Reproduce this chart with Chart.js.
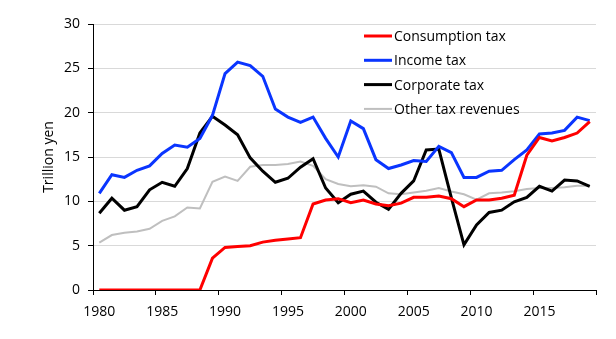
<!DOCTYPE html>
<html>
<head>
<meta charset="utf-8">
<script src="https://cdn.jsdelivr.net/npm/chart.js@4"></script>
<style>
  html, body { margin: 0; padding: 0; background: #fff; }
  #wrap { width: 616px; height: 339px; }
</style>
</head>
<body>
<div id="wrap"><canvas id="taxChart" width="616" height="339"></canvas></div>
<script>
const years = ['1980','1981','1982','1983','1984','1985','1986','1987','1988','1989',
               '1990','1991','1992','1993','1994','1995','1996','1997','1998','1999',
               '2000','2001','2002','2003','2004','2005','2006','2007','2008','2009',
               '2010','2011','2012','2013','2014','2015','2016','2017','2018','2019'];

// trillion yen
const consumptionTax = [0, 0, 0, 0, 0, 0, 0, 0, 0, 3.6,
                        4.8, 4.9, 5.0, 5.4, 5.6, 5.75, 5.9, 9.7, 10.15, 10.3,
                        9.85, 10.15, 9.7, 9.5, 9.8, 10.45, 10.45, 10.6, 10.3, 9.4,
                        10.15, 10.15, 10.35, 10.7, 15.2, 17.2, 16.8, 17.2, 17.7, 19.0];
const incomeTax = [10.9, 13.0, 12.7, 13.5, 14.0, 15.4, 16.35, 16.1, 17.1, 19.7,
                   24.4, 25.7, 25.3, 24.1, 20.4, 19.5, 18.9, 19.5, 17.1, 15.0,
                   19.06, 18.2, 14.7, 13.7, 14.1, 14.6, 14.5, 16.2, 15.5, 12.7,
                   12.7, 13.4, 13.5, 14.7, 15.8, 17.6, 17.7, 18.0, 19.5, 19.1];
const corporateTax = [8.65, 10.35, 9.0, 9.4, 11.3, 12.15, 11.7, 13.7, 17.7, 19.6,
                      18.6, 17.5, 14.9, 13.4, 12.15, 12.6, 13.85, 14.8, 11.5, 9.85,
                      10.8, 11.15, 9.9, 9.1, 10.9, 12.3, 15.8, 15.9, 10.4, 5.1,
                      7.35, 8.75, 9.0, 9.95, 10.45, 11.7, 11.15, 12.4, 12.3, 11.7];
const otherTax = [5.35, 6.2, 6.45, 6.6, 6.9, 7.8, 8.3, 9.3, 9.2, 12.2,
                  12.8, 12.3, 13.9, 14.1, 14.1, 14.2, 14.5, 14.0, 12.5, 11.95,
                  11.7, 11.8, 11.65, 10.9, 10.8, 11.0, 11.2, 11.5, 11.1, 10.8,
                  10.2, 10.9, 11.0, 11.15, 11.4, 11.5, 11.5, 11.6, 11.75, 11.75];

const yTicks = [0, 5, 10, 15, 20, 25, 30];

const FONT = '"Open Sans", sans-serif';

// legend drawn inside the plot, top right, one entry per row
const insideLegend = {
  id: 'insideLegend',
  afterDraw(chart) {
    const ctx = chart.ctx;
    const x0 = 364, lineLen = 28, y0 = 36, rowH = 24.3;
    ctx.save();
    ctx.font = '14px ' + FONT;
    ctx.textBaseline = 'middle';
    ctx.textAlign = 'left';
    chart.data.datasets.forEach((ds, i) => {
      const y = y0 + i * rowH;
      ctx.strokeStyle = ds.borderColor;
      ctx.lineWidth = ds.borderWidth;
      ctx.beginPath();
      ctx.moveTo(x0, y);
      ctx.lineTo(x0 + lineLen, y);
      ctx.stroke();
      ctx.fillStyle = '#000';
      ctx.fillText(ds.label, x0 + lineLen + 2, y + 1);
    });
    ctx.restore();
  }
};

const data = {
  labels: years,
  datasets: [
    { label: 'Consumption tax', data: consumptionTax, borderColor: '#ff0000', borderWidth: 3 },
    { label: 'Income tax', data: incomeTax, borderColor: '#0a35ff', borderWidth: 3 },
    { label: 'Corporate tax', data: corporateTax, borderColor: '#000000', borderWidth: 3 },
    { label: 'Other tax revenues', data: otherTax, borderColor: '#bfbfbf', borderWidth: 2 }
  ]
};

const config = {
  type: 'line',
  data: data,
  options: {
    responsive: false,
    animation: false,
    devicePixelRatio: 1,
    layout: { padding: { left: 0, right: 20, top: 24, bottom: 0 } },
    elements: {
      point: { radius: 0 },
      line: { tension: 0, borderJoinStyle: 'miter', borderCapStyle: 'butt' }
    },
    plugins: {
      legend: { display: false },
      tooltip: { enabled: false }
    },
    scales: {
      x: {
        type: 'category',
        offset: true,
        afterFit: s => { s.height = 49; },
        grid: {
          offset: true,
          drawOnChartArea: false,
          drawTicks: true,
          tickLength: 5,
          tickColor: c => (c.index === undefined || c.index % 5 === 0) ? '#000' : 'rgba(0,0,0,0)'
        },
        border: { color: '#000', width: 1 },
        ticks: {
          autoSkip: false,
          maxRotation: 0,
          padding: 9,
          color: '#000',
          font: { family: FONT, size: 14 },
          callback: function (val, index) {
            return index % 5 === 0 ? this.getLabelForValue(val) : '';
          }
        }
      },
      y: {
        min: 0,
        max: 30,
        afterFit: s => { s.width = 93; },
        afterBuildTicks: s => { s.ticks = yTicks.map(v => ({ value: v })); },
        grid: { color: '#d9d9d9', lineWidth: 1, tickLength: 5, tickColor: '#000' },
        border: { color: '#000', width: 1 },
        ticks: {
          padding: 8,
          color: '#000',
          font: { family: FONT, size: 14 }
        },
        title: {
          display: true,
          text: 'Trillion yen',
          color: '#000',
          padding: { top: 41, bottom: 0 },
          font: { family: FONT, size: 14 }
        }
      }
    }
  },
  plugins: [insideLegend]
};

var taxChart = new Chart(document.getElementById('taxChart'), config);
</script>
</body>
</html>
